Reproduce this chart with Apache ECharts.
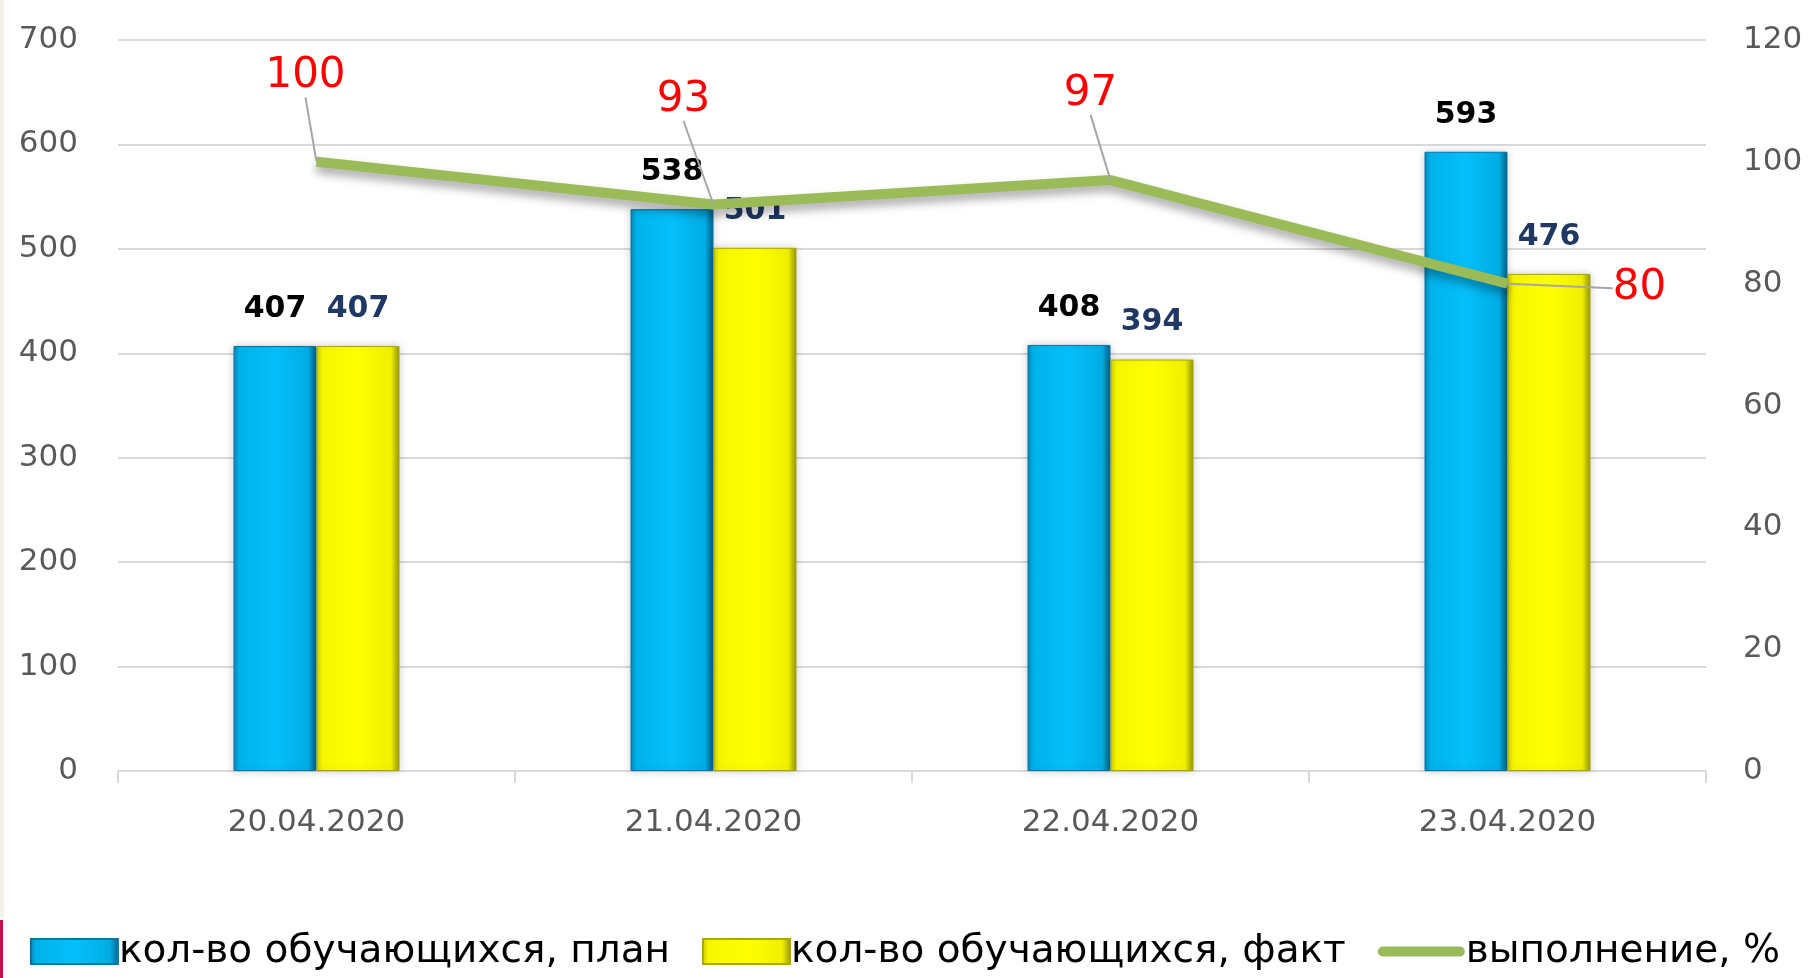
<!DOCTYPE html>
<html>
<head>
<meta charset="utf-8">
<script src="https://cdn.jsdelivr.net/npm/echarts@6/dist/echarts.min.js"></script>
<style>
    html, body { margin: 0; padding: 0; background: #fff; }
    #chart { width: 1810px; height: 978px; }
</style>
</head>
<body>
<div id="chart"></div>
<script>
const dates = ['20.04.2020', '21.04.2020', '22.04.2020', '23.04.2020'];
const plan = [407, 538, 408, 593];
const fact = [407, 501, 394, 476];
const percent = [100, 93, 97, 80];
const leftTicks = { min: 0, max: 700, interval: 100 };
const rightTicks = { min: 0, max: 120, interval: 20 };

const names = ['кол-во обучающихся, план', 'кол-во обучающихся, факт', 'выполнение, %'];

// where the red % labels sit relative to their point (dx, dy)
const pctShift = [[-11, -59], [-30, -78], [-20, -60], [132, 31]];

const font = 'DejaVu Sans';

const grad = (stops) => new echarts.graphic.LinearGradient(0, 0, 1, 0,
    stops.map((c, i) => ({ offset: c[0], color: c[1] })));

const blue = grad([[0, '#0a86b6'], [0.07, '#00b2ea'], [0.5, '#05bffb'], [0.9, '#00ade4'], [1, '#005f86']]);
const yellow = grad([[0, '#cccc00'], [0.07, '#f6f600'], [0.5, '#ffff00'], [0.9, '#f0f000'], [1, '#949400']]);

let chart = echarts.init(document.getElementById('chart'));

let option = {
    animation: false,
    backgroundColor: '#ffffff',
    textStyle: { fontFamily: font },
    grid: { left: 118, right: 104, top: 40, bottom: 207 },
    legend: {
        bottom: 2,
        left: 'center',
        itemWidth: 87,
        itemHeight: 25,
        itemGap: 32,
        textStyle: { fontSize: 39, color: '#000', fontFamily: font, padding: [0, 0, 0, -4] },
        data: [
            { name: names[0], icon: 'rect' },
            { name: names[1], icon: 'rect' },
            { name: names[2], icon: 'path://M2,0 h86 a5,5 0 0 1 0,11 h-86 a5,5 0 0 1 0,-11 z' }
        ]
    },
    xAxis: {
        type: 'category',
        data: dates,
        axisLine: { lineStyle: { color: '#d9d9d9', width: 2 } },
        axisTick: { show: true, length: 12, lineStyle: { color: '#d9d9d9', width: 2 } },
        axisLabel: { color: '#595959', fontSize: 31, margin: 36 }
    },
    yAxis: [
        {
            type: 'value',
            min: leftTicks.min, max: leftTicks.max, interval: leftTicks.interval,
            axisLine: { show: false },
            axisTick: { show: false },
            axisLabel: { color: '#595959', fontSize: 31, margin: 40 },
            splitLine: { lineStyle: { color: '#d9d9d9', width: 2 } }
        },
        {
            type: 'value',
            min: rightTicks.min, max: rightTicks.max, interval: rightTicks.interval,
            axisLine: { show: false },
            axisTick: { show: false },
            axisLabel: { color: '#595959', fontSize: 31, margin: 37 },
            splitLine: { show: false }
        }
    ],
    graphic: [
        { type: 'rect', left: 0, top: 0, shape: { width: 4, height: 918 }, style: { fill: '#f4f2e8' }, silent: true },
        { type: 'rect', left: 0, top: 920, shape: { width: 3, height: 58 }, style: { fill: '#c8104c' }, silent: true }
    ],
    series: [
        {
            name: names[0],
            type: 'bar',
            data: plan,
            barWidth: 83,
            barGap: '0%',
            itemStyle: {
                color: blue,
                borderColor: '#0076a6',
                borderWidth: 1,
                shadowColor: 'rgba(0,0,0,0.18)',
                shadowBlur: 8
            },
            label: {
                show: true,
                position: 'top',
                distance: 22,
                color: '#000',
                fontSize: 30,
                fontWeight: 'bold'
            },
            z: 2
        },
        {
            name: names[1],
            type: 'bar',
            data: fact,
            barWidth: 83,
            barGap: '0%',
            itemStyle: {
                color: yellow,
                borderColor: '#a8a800',
                borderWidth: 1,
                shadowColor: 'rgba(0,0,0,0.18)',
                shadowBlur: 8
            },
            label: {
                show: true,
                position: 'top',
                distance: 22,
                color: '#1f3864',
                fontSize: 30,
                fontWeight: 'bold'
            },
            z: 2
        },
        {
            name: names[2],
            type: 'line',
            yAxisIndex: 1,
            data: percent,
            symbol: 'circle',
            symbolSize: 1,
            showSymbol: true,
            color: '#9bbb59',
            itemStyle: { color: '#9bbb59' },
            lineStyle: {
                color: '#9bbb59',
                width: 10,
                shadowColor: 'rgba(0,0,0,0.35)',
                shadowBlur: 10,
                shadowOffsetY: 6
            },
            label: {
                show: true,
                position: 'top',
                distance: 5,
                color: '#ff0000',
                fontSize: 42
            },
            labelLine: {
                show: true,
                lineStyle: { color: '#a6a6a6', width: 2 }
            },
            labelLayout: (p) => ({ dx: pctShift[p.dataIndex][0], dy: pctShift[p.dataIndex][1] }),
            z: 5
        }
    ]
};

chart.setOption(option);
</script>
</body>
</html>
